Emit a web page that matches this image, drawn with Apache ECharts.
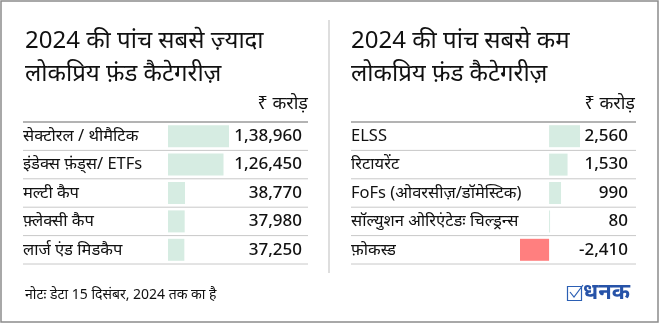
<!DOCTYPE html>
<html>
<head>
<meta charset="utf-8">
<script src="https://cdn.jsdelivr.net/npm/echarts@6/dist/echarts.min.js"></script>
<style>html,body{margin:0;padding:0;background:#fff}#c{width:660px;height:325px}</style>
</head>
<body>
<div id="c"></div>
<script>
const leftCategories = ['सेक्टोरल / थीमैटिक', 'इंडेक्स फ़ंड्स/ ETFs', 'मल्टी कैप', 'फ़्लेक्सी कैप', 'लार्ज एंड मिडकैप'];
const leftValues = [138960, 126450, 38770, 37980, 37250];
const rightCategories = ['ELSS', 'रिटायरेंट', 'FoFs (ओवरसीज़/डॉमेस्टिक)', 'सॉल्युशन ओरिएंटेडः चिल्ड्रन्स', 'फ़ोकस्ड'];
const rightValues = [2560, 1530, 990, 80, -2410];
const leftTitle = ['2024 की पांच सबसे ज़्यादा', 'लोकप्रिय फ़ंड कैटेगरीज़'];
const rightTitle = ['2024 की पांच सबसे कम', 'लोकप्रिय फ़ंड कैटेगरीज़'];
const unitLabel = '₹ करोड़';
const footNote = 'नोटः डेटा 15 दिसंबर, 2024 तक का है';
const brand = 'धनक';

const FONT = '"Noto Sans", "Noto Sans Devanagari", sans-serif';

function indianFormat(n) {
  const neg = n < 0;
  let s = String(Math.abs(Math.round(n)));
  if (s.length > 3) {
    const last3 = s.slice(-3);
    let rest = s.slice(0, -3);
    const parts = [];
    while (rest.length > 2) { parts.unshift(rest.slice(-2)); rest = rest.slice(0, -2); }
    if (rest.length) parts.unshift(rest);
    s = parts.join(',') + ',' + last3;
  }
  return (neg ? '-' : '') + s;
}

const chart = echarts.init(document.getElementById('c'), null, {renderer: 'canvas'});

const gridTop = 122, gridH = 142;
const panels = [
  {lineX1: 23, lineX2: 308, barLeft: 168, barW: 61, min: 0, max: 138960, labelX: 23, valueX: 302, cats: leftCategories, vals: leftValues},
  {lineX1: 351, lineX2: 636, barLeft: 520, barW: 60, min: -2410, max: 2560, labelX: 351, valueX: 628, cats: rightCategories, vals: rightValues}
];

const grids = [], xAxes = [], yAxes = [], series = [], graphics = [];
panels.forEach((p, k) => {
  grids.push({left: p.barLeft, top: gridTop, width: p.barW, height: gridH, containLabel: false});
  xAxes.push({type: 'value', gridIndex: k, min: p.min, max: p.max, show: false});
  yAxes.push({
    type: 'category', gridIndex: k, data: p.cats, inverse: true,
    axisLine: {show: false}, axisTick: {show: false}, splitLine: {show: false},
    axisLabel: {align: 'left', margin: p.barLeft - p.labelX, fontFamily: FONT, fontSize: 16.5, color: '#111', padding: [3, 0, 0, 0]}
  });
  yAxes.push({
    type: 'category', gridIndex: k, data: p.cats, inverse: true, position: 'right',
    axisLine: {show: false}, axisTick: {show: false}, splitLine: {show: false},
    axisLabel: {align: 'right', margin: p.valueX - (p.barLeft + p.barW), fontFamily: FONT, fontSize: 17, fontWeight: 500, color: '#111',
      padding: [4, 0, 0, 0],
      formatter: (v, i) => indianFormat(p.vals[i])}
  });
  series.push({
    type: 'bar', xAxisIndex: k, yAxisIndex: k * 2, barWidth: 22,
    data: p.vals.map(v => ({value: v, itemStyle: {color: v < 0 ? '#ff7f7f' : '#d6ece2'}})),
    silent: true, animation: false
  });
  for (let i = 0; i <= 5; i++) {
    const y = gridTop + i * gridH / 5;
    graphics.push({type: 'line', shape: {x1: p.lineX1, y1: y, x2: p.lineX2, y2: y},
      style: {stroke: i === 0 ? '#9a9a9a' : '#c8c8c8', lineWidth: i === 0 ? 1.5 : 1}, z: 1});
  }
});

const titles = [{x: 25, lines: leftTitle, unitX: 308}, {x: 351, lines: rightTitle, unitX: 635}];
titles.forEach(t => {
  t.lines.forEach((ln, i) => {
    graphics.push({type: 'text', x: t.x, y: 41 + i * 33, style: {text: ln, font: '24px ' + FONT, fill: '#111', textVerticalAlign: 'middle'}});
  });
  graphics.push({type: 'text', x: t.unitX, y: 104, style: {text: unitLabel, font: '18px ' + FONT, fill: '#111', textAlign: 'right', textVerticalAlign: 'middle'}});
});

graphics.push({type: 'rect', shape: {x: 1, y: 1, width: 657, height: 321}, style: {fill: null, stroke: '#8c8c8c', lineWidth: 1.5}});
graphics.push({type: 'line', shape: {x1: 329, y1: 20, x2: 329, y2: 273}, style: {stroke: '#bdbdbd', lineWidth: 1}});

graphics.push({type: 'text', x: 25, y: 295, style: {text: footNote, font: '14px ' + FONT, fill: '#111', textVerticalAlign: 'middle'}});
graphics.push({type: 'rect', shape: {x: 567.5, y: 286.5, width: 14, height: 14}, style: {fill: null, stroke: '#2b5fb4', lineWidth: 1.2}});
graphics.push({type: 'polyline', shape: {points: [[570, 292], [574, 297], [583, 285]]}, style: {fill: null, stroke: '#2b5fb4', lineWidth: 1.2}});
graphics.push({type: 'text', x: 583, y: 293, style: {text: brand, font: 'bold 22px ' + FONT, fill: '#2753a8', textVerticalAlign: 'middle'}});

chart.setOption({
  animation: false,
  grid: grids, xAxis: xAxes, yAxis: yAxes, series: series,
  graphic: graphics
});
</script>
</body>
</html>
